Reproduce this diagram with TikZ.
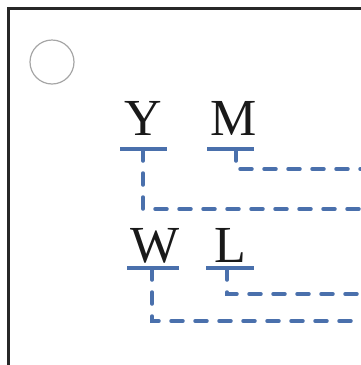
\documentclass[tikz,border=0pt]{standalone}
\usepackage{fontspec}
\setmainfont{Liberation Serif}
\usetikzlibrary{calc}
\definecolor{wireblue}{RGB}{74,112,172}
\definecolor{framegray}{RGB}{40,40,40}

\begin{document}
\begin{tikzpicture}[x=1pt, y=-1pt,
		letter/.style={inner sep=0pt, anchor=base, font=\fontsize{52}{52}\selectfont, text=black!90},
		bar/.style={draw=wireblue, line width=3.5pt},
		wire/.style={draw=wireblue, line width=3.5pt, line cap=round, dash pattern=on 12pt off 12pt}]
			\useasboundingbox (0,0) rectangle (360,365);
			% frame
			\coordinate (f0) at (8,370); \coordinate (f1) at (8,8); \coordinate (f2) at (370,8);
			\path[draw=framegray, line width=3pt] (f0)--(f1)--(f2);
			\node[draw=gray!70, line width=1.2pt, circle, minimum size=44pt, inner sep=0pt] (hole) at (52,62) {};
			
			% LETTERS
			\node[letter] (Y) at (143,135) {Y};
			\node[letter] (M) at (234,135) {M};
			\node[letter] (W) at (155,262) {W};
			\node[letter] (L) at (230,262) {L};
			
			% BARS
			\coordinate (yl) at (120,149); \coordinate (yr) at (167,149); \coordinate (ys) at (143,149);
			\coordinate (ml) at (207,149); \coordinate (mr) at (254,149); \coordinate (ms) at (236,149);
			\coordinate (wl) at (127,268); \coordinate (wr) at (179,268); \coordinate (ws) at (152,268);
			\coordinate (ll) at (206,268); \coordinate (lr) at (254,268); \coordinate (ls) at (227,268);
			\path[bar] (yl)--(yr); \path[bar] (ml)--(mr);
			\path[bar] (wl)--(wr); \path[bar] (ll)--(lr);
			
			% WIRES
			\coordinate (ye) at (362,209); \coordinate (me) at (362,169);
			\coordinate (we) at (362,321); \coordinate (le) at (362,294);
			\path[wire] (ys) |- (ye); \path[wire] (ms) |- (me);
			\path[wire] (ws) |- (we); \path[wire] (ls) |- (le);
		\end{tikzpicture}
\end{document}
